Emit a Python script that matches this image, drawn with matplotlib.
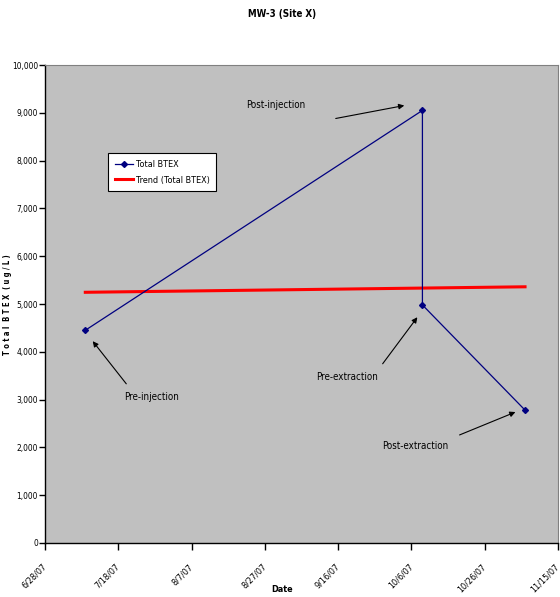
import matplotlib
matplotlib.use("Agg")
import matplotlib.pyplot as plt
from datetime import datetime

plt.rcParams['font.family'] = ['DejaVu Sans']
plt.rcParams['font.stretch'] = 'condensed'

# data
sample_dates = ['2007-07-09', '2007-10-09', '2007-10-09', '2007-11-06']
total_btex = [4450, 9050, 4980, 2780]
trend_dates = ['2007-07-09', '2007-11-06']
trend_values = [5245, 5360]
tick_dates = ['2007-06-28', '2007-07-18', '2007-08-07', '2007-08-27',
              '2007-09-16', '2007-10-06', '2007-10-26', '2007-11-15']
tick_labels = ['6/28/07', '7/18/07', '8/7/07', '8/27/07',
               '9/16/07', '10/6/07', '10/26/07', '11/15/07']

to_dt = lambda s: datetime.strptime(s, '%Y-%m-%d')
x = [to_dt(d) for d in sample_dates]
xt = [to_dt(d) for d in trend_dates]
ticks = [to_dt(d) for d in tick_dates]

W, H = 560, 597
fig = plt.figure(figsize=(W / 100, H / 100), dpi=100)
ax = fig.add_axes([45 / W, 1 - 543 / H, (558 - 45) / W, (543 - 65) / H])
ax.set_facecolor('#C0C0C0')

ax.plot(x, total_btex, color='#000080', lw=0.9, marker='D', ms=3,
        label='Total BTEX', zorder=3)
ax.plot(xt, trend_values, color='#FF0000', lw=2.2, label='Trend (Total BTEX)', zorder=2)

ax.set_xlim(ticks[0], ticks[-1])
ax.set_ylim(0, 10000)
ax.set_yticks(range(0, 10001, 1000))
ax.set_yticklabels([f'{v:,}' for v in range(0, 10001, 1000)], fontsize=6)
ax.set_xticks(ticks)
ax.set_xticklabels(tick_labels, rotation=45, ha='right', va='center', fontsize=6.5,
                   rotation_mode='anchor')
ax.tick_params(axis='x', direction='out', length=5, pad=11, width=1)
ax.tick_params(axis='y', direction='out', length=4, width=1, pad=1)

for s in ['top', 'right']:
    ax.spines[s].set_color('#808080')
    ax.spines[s].set_linewidth(0.8)
for s in ['left', 'bottom']:
    ax.spines[s].set_color('black')
    ax.spines[s].set_linewidth(1)

fig.text(282 / W, 1 - 14 / H, 'MW-3 (Site X)', ha='center', va='center',
         fontsize=7, fontweight='bold')
fig.text(282 / W, 1 - 589 / H, 'Date', ha='center', va='center',
         fontsize=6.5, fontweight='bold')
fig.text(8 / W, 1 - 305 / H, 'T o t a l  B T E X  ( u g / L )', rotation=90,
         ha='center', va='center', fontsize=5.5, fontweight='bold')

leg = ax.legend(loc='upper left', bbox_to_anchor=(108 / W, 1 - 153 / H),
                bbox_transform=fig.transFigure, borderaxespad=0, fancybox=False,
                edgecolor='black', framealpha=1, fontsize=6.5, handlelength=2.0,
                handletextpad=0.3, borderpad=0.75, labelspacing=0.75)
leg.get_frame().set_linewidth(0.8)

# annotations (figure pixel positions)
notes = [('Post-injection', (276, 105)), ('Pre-injection', (152, 397)),
         ('Pre-extraction', (347, 377)), ('Post-extraction', (415, 446))]
arrows = [((333, 119), (407, 105)), ((128, 386), (91, 339)),
          ((381, 366), (419, 315)), ((457, 436), (518, 411))]
for txt, (px, py) in notes:
    fig.text(px / W, 1 - py / H, txt, ha='center', va='center', fontsize=7)
for (tx, ty), (hx, hy) in arrows:
    ax.annotate('', xy=(hx, H - hy), xycoords='figure pixels',
                xytext=(tx, H - ty), textcoords='figure pixels',
                arrowprops=dict(arrowstyle='-|>', color='black', lw=0.8,
                                mutation_scale=8))

fig.savefig('out.png', dpi=100)
